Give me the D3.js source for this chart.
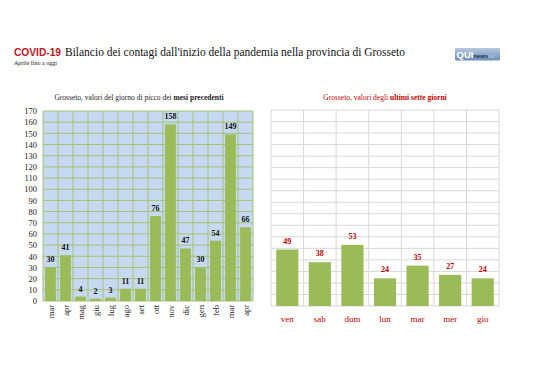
<!DOCTYPE html>
<html><head><meta charset="utf-8">
<script src="https://cdn.jsdelivr.net/npm/d3@7"></script>
<style>body{margin:0;background:#fff}svg{display:block}
.serif{font-family:"Liberation Serif","DejaVu Serif",serif}
.sans{font-family:"Liberation Sans","DejaVu Sans",sans-serif}
</style>
</head><body>
<svg id="c" width="538" height="380"></svg>
<script>
const monthCats = ["mar","apr","mag","giu","lug","ago","set","ott","nov","dic","gen","feb","mar ","apr "];
const monthVals = [30,41,4,2,3,11,11,76,158,47,30,54,149,66];
const dayCats = ["ven","sab","dom","lun","mar","mer","gio"];
const dayVals = [49,38,53,24,35,27,24];
const yTicks = d3.range(0,171,10);

const svg = d3.select("#c");
const dark = "#c00000";

// Title
svg.append("text").attr("class","sans").attr("x",14).attr("y",55.5).attr("font-weight","bold").attr("font-size",11.5)
  .attr("fill","#c0161e").attr("textLength",47).attr("lengthAdjust","spacingAndGlyphs").text("COVID-19");
svg.append("text").attr("class","serif").attr("x",65).attr("y",55.5).attr("font-size",13).attr("fill","#111")
  .attr("textLength",340).attr("lengthAdjust","spacingAndGlyphs")
  .text("Bilancio dei contagi dall'inizio della pandemia nella provincia di Grosseto");
svg.append("text").attr("class","serif").attr("x",14).attr("y",64.5).attr("font-size",6).attr("fill","#111").text("Aprile fino a oggi");

// Logo
const lg = svg.append("defs").append("linearGradient").attr("id","lg").attr("x1",0).attr("y1",0).attr("x2",0).attr("y2",1);
lg.append("stop").attr("offset","0%").attr("stop-color","#b7c8de");
lg.append("stop").attr("offset","100%").attr("stop-color","#6f8fb8");
svg.append("rect").attr("x",455).attr("y",48).attr("width",45).attr("height",12.5).attr("rx",1).attr("fill","url(#lg)");
const lt = svg.append("text").attr("class","sans").attr("x",456.5).attr("y",58.3).attr("font-weight","bold");
lt.append("tspan").attr("font-size",9.5).attr("fill","#fff").text("QUI");
lt.append("tspan").attr("font-size",5.8).attr("fill","#1f3550").text("news");
lt.append("tspan").attr("font-size",5.8).attr("fill","#a9bedb").text("ml");

// Left chart
const L = {x0:43,x1:253,y0:111,y1:301};
const xL = d3.scaleBand().domain(monthCats).range([L.x0,L.x1]).paddingInner(0.28).paddingOuter(0.14);
const yL = d3.scaleLinear().domain([0,170]).range([L.y1,L.y0]);
const gL = svg.append("g");
gL.append("rect").attr("x",L.x0).attr("y",L.y0).attr("width",L.x1-L.x0).attr("height",L.y1-L.y0).attr("fill","#c6d9f1");
gL.selectAll("line.h").data(yTicks).join("line").attr("x1",L.x0).attr("x2",L.x1)
  .attr("y1",d=>yL(d)).attr("y2",d=>yL(d)).attr("stroke","#a6c272").attr("stroke-width",1);
gL.selectAll("line.v").data(d3.range(monthCats.length+1)).join("line")
  .attr("x1",i=>L.x0+i*(L.x1-L.x0)/monthCats.length).attr("x2",i=>L.x0+i*(L.x1-L.x0)/monthCats.length)
  .attr("y1",L.y0).attr("y2",L.y1).attr("stroke","#a6c272").attr("stroke-width",1);
const axL = d3.axisLeft(yL).tickValues(yTicks).tickSize(0).tickPadding(6);
const ayL = gL.append("g").attr("transform",`translate(${L.x0},0)`).call(axL);
ayL.attr("font-family",null).attr("font-size",null);
ayL.select(".domain").remove();
ayL.selectAll("text").attr("class","serif").attr("font-size",8.5).attr("fill","#222");
gL.selectAll("rect.bar").data(monthVals).join("rect").attr("class","bar")
  .attr("x",(d,i)=>xL(monthCats[i])).attr("width",xL.bandwidth())
  .attr("y",d=>yL(d)).attr("height",d=>yL(0)-yL(d)).attr("fill","#9bbb59");
gL.selectAll("text.val").data(monthVals).join("text").attr("class","val serif")
  .attr("x",(d,i)=>xL(monthCats[i])+xL.bandwidth()/2).attr("y",d=>yL(d)-5)
  .attr("text-anchor","middle").attr("font-weight","bold").attr("font-size",8).attr("fill","#111")
  .text(d=>d);
const axBL = d3.axisBottom(xL).tickSize(0).tickPadding(0).tickFormat(d=>d.trim());
const axb = gL.append("g").attr("transform",`translate(0,${L.y1})`).call(axBL);
axb.attr("font-family",null).attr("font-size",null);
axb.select(".domain").remove();
axb.selectAll("text").attr("class","serif").attr("font-size",8.5).attr("fill","#222")
  .attr("text-anchor","end").attr("dy",null).attr("y",0)
  .attr("transform","translate(3,4) rotate(-90)");
const stL = svg.append("text").attr("class","serif").attr("x",139).attr("y",100).attr("text-anchor","middle").attr("font-size",7.5).attr("fill","#222");
stL.append("tspan").text("Grosseto, valori del giorno di picco dei ");
stL.append("tspan").attr("font-weight","bold").text("mesi precedenti");

// Right chart
const R = {x0:271,x1:499,y0:110,y1:306};
const xR = d3.scaleBand().domain(dayCats).range([R.x0,R.x1]).paddingInner(0.32).paddingOuter(0.16);
const yR = d3.scaleLinear().domain([0,170]).range([R.y1,R.y0]);
const gR = svg.append("g");
gR.selectAll("line.h").data(yTicks).join("line").attr("x1",R.x0).attr("x2",R.x1)
  .attr("y1",d=>yR(d)).attr("y2",d=>yR(d)).attr("stroke","#d9d9d9").attr("stroke-width",1);
gR.selectAll("line.v").data(d3.range(dayCats.length+1)).join("line")
  .attr("x1",i=>R.x0+i*(R.x1-R.x0)/dayCats.length).attr("x2",i=>R.x0+i*(R.x1-R.x0)/dayCats.length)
  .attr("y1",R.y0).attr("y2",R.y1).attr("stroke","#d9d9d9").attr("stroke-width",1);
gR.selectAll("rect.bar").data(dayVals).join("rect").attr("class","bar")
  .attr("x",(d,i)=>xR(dayCats[i])).attr("width",xR.bandwidth())
  .attr("y",d=>yR(d)).attr("height",d=>yR(0)-yR(d)).attr("fill","#9bbb59");
gR.selectAll("text.val").data(dayVals).join("text").attr("class","val serif")
  .attr("x",(d,i)=>xR(dayCats[i])+xR.bandwidth()/2).attr("y",d=>yR(d)-6)
  .attr("text-anchor","middle").attr("font-weight","bold").attr("font-size",8).attr("fill",dark)
  .text(d=>d);
const axBR = d3.axisBottom(xR).tickSize(0).tickPadding(10);
const axr = gR.append("g").attr("transform",`translate(0,${R.y1})`).call(axBR);
axr.attr("font-family",null).attr("font-size",null);
axr.select(".domain").remove();
axr.selectAll("text").attr("class","serif").attr("font-size",9).attr("fill",dark);
const stR = svg.append("text").attr("class","serif").attr("x",385).attr("y",100).attr("text-anchor","middle").attr("font-size",7.5).attr("fill",dark);
stR.append("tspan").text("Grosseto, valori degli ");
stR.append("tspan").attr("font-weight","bold").text("ultimi sette giorni");
</script>
</body></html>
